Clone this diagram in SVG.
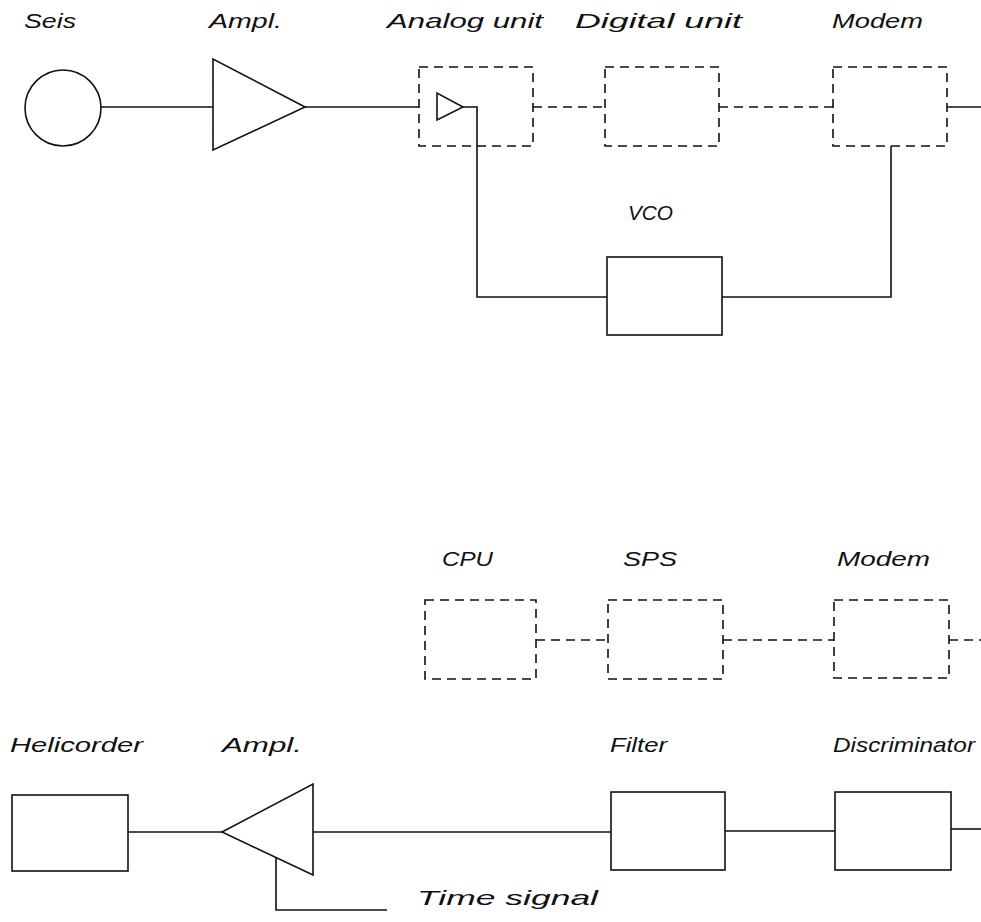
<svg xmlns="http://www.w3.org/2000/svg" width="981" height="922" viewBox="0 0 981 922">
<style>
.s{fill:none;stroke:#111;stroke-width:1.6}
.d{fill:none;stroke:#111;stroke-width:1.6;stroke-dasharray:9 6}
.t{font-family:"Liberation Sans",Arial,sans-serif;font-style:italic;font-size:21px;fill:#111}
</style>
<rect width="981" height="922" fill="#fff"/>
<g id="seis"><circle class="s" cx="63" cy="108" r="38"/><text class="t" x="24" y="28" textLength="52" lengthAdjust="spacingAndGlyphs">Seis</text></g>
<g id="ampl1"><polygon class="s" points="213,59 213,150 305,107"/><text class="t" x="209" y="28" textLength="73" lengthAdjust="spacingAndGlyphs">Ampl.</text></g>
<g id="analog"><rect class="d" x="419" y="67" width="114" height="79"/><polygon class="s" points="437,93 437,120 463,107"/><text class="t" x="387" y="28" textLength="156" lengthAdjust="spacingAndGlyphs">Analog unit</text></g>
<g id="digital"><rect class="d" x="605" y="67" width="114" height="79"/><text class="t" x="575" y="28" textLength="167" lengthAdjust="spacingAndGlyphs">Digital unit</text></g>
<g id="modem1"><rect class="d" x="833" y="67" width="114" height="79"/><text class="t" x="832" y="28" textLength="91" lengthAdjust="spacingAndGlyphs">Modem</text></g>
<g id="vco"><rect class="s" x="607" y="257" width="115" height="78"/><text class="t" x="628" y="220" textLength="45" lengthAdjust="spacingAndGlyphs">VCO</text></g>
<g id="cpu"><rect class="d" x="425" y="600" width="111" height="79"/><text class="t" x="442" y="566" textLength="51" lengthAdjust="spacingAndGlyphs">CPU</text></g>
<g id="sps"><rect class="d" x="608" y="600" width="115" height="79"/><text class="t" x="623" y="566" textLength="54" lengthAdjust="spacingAndGlyphs">SPS</text></g>
<g id="modem2"><rect class="d" x="834" y="600" width="115" height="78"/><text class="t" x="837" y="566" textLength="93" lengthAdjust="spacingAndGlyphs">Modem</text></g>
<g id="helicorder"><rect class="s" x="12" y="795" width="116" height="76"/><text class="t" x="10" y="752" textLength="133" lengthAdjust="spacingAndGlyphs">Helicorder</text></g>
<g id="ampl2"><polygon class="s" points="313,784 313,875 222,832"/><text class="t" x="222" y="752" textLength="80" lengthAdjust="spacingAndGlyphs">Ampl.</text></g>
<g id="filter"><rect class="s" x="611" y="792" width="114" height="78"/><text class="t" x="610" y="752" textLength="57" lengthAdjust="spacingAndGlyphs">Filter</text></g>
<g id="discriminator"><rect class="s" x="835" y="792" width="116" height="78"/><text class="t" x="833" y="752" textLength="142" lengthAdjust="spacingAndGlyphs">Discriminator</text></g>
<g id="timesignal"><text class="t" x="417" y="905" textLength="181" lengthAdjust="spacingAndGlyphs">Time signal</text></g>
<g id="connectors">
<line class="s" x1="101" y1="107" x2="213" y2="107"/>
<line class="s" x1="305" y1="107" x2="419" y2="107"/>
<line class="d" x1="533" y1="107" x2="605" y2="107"/>
<line class="d" x1="719" y1="107" x2="833" y2="107"/>
<line class="s" x1="947" y1="107" x2="981" y2="107"/>
<polyline class="s" points="463,107 477,107 477,297 607,297"/>
<polyline class="s" points="722,297 891,297 891,146"/>
<line class="d" x1="536" y1="640" x2="608" y2="640"/>
<line class="d" x1="723" y1="640" x2="834" y2="640"/>
<line class="d" x1="949" y1="640" x2="981" y2="640"/>
<line class="s" x1="128" y1="832" x2="222" y2="832"/>
<line class="s" x1="313" y1="832" x2="611" y2="832"/>
<line class="s" x1="725" y1="831" x2="835" y2="831"/>
<line class="s" x1="951" y1="829" x2="981" y2="829"/>
<polyline class="s" points="276,857 276,910 387,910"/>
</g>
</svg>
